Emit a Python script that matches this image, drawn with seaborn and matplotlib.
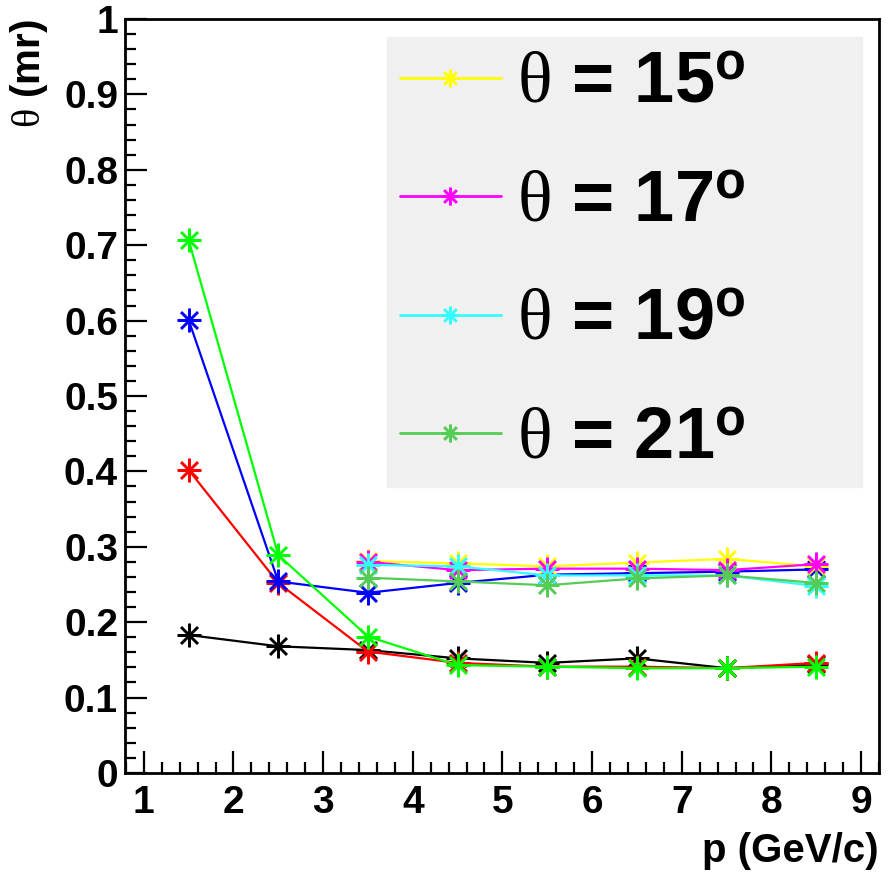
import matplotlib
matplotlib.use("Agg")
import matplotlib.pyplot as plt
import seaborn as sns
import numpy as np
import pandas as pd
from matplotlib.ticker import MultipleLocator

# ---- data ----
p_full = [1.5, 2.5, 3.5, 4.5, 5.5, 6.5, 7.5, 8.5]
p_part = [3.5, 4.5, 5.5, 6.5, 7.5, 8.5]

black = [0.183, 0.168, 0.163, 0.152, 0.146, 0.152, 0.139, 0.144]
red = [0.402, 0.252, 0.161, 0.146, 0.141, 0.141, 0.139, 0.146]
blue = [0.601, 0.254, 0.239, 0.252, 0.263, 0.265, 0.267, 0.270]
lime = [0.707, 0.289, 0.181, 0.143, 0.141, 0.139, 0.139, 0.141]

theta15 = [0.281, 0.278, 0.274, 0.279, 0.284, 0.274]
theta17 = [0.280, 0.269, 0.271, 0.271, 0.269, 0.277]
theta19 = [0.276, 0.274, 0.262, 0.262, 0.262, 0.248]
theta21 = [0.259, 0.254, 0.249, 0.258, 0.262, 0.252]

legend_labels = [r"$\mathrm{\theta}$ = 15$^{\mathbf{o}}$",
                 r"$\mathrm{\theta}$ = 17$^{\mathbf{o}}$",
                 r"$\mathrm{\theta}$ = 19$^{\mathbf{o}}$",
                 r"$\mathrm{\theta}$ = 21$^{\mathbf{o}}$"]

sns.set_theme(style="ticks")
plt.rcParams["font.family"] = ["Liberation Sans", "DejaVu Sans"]
plt.rcParams["mathtext.fontset"] = "custom"
plt.rcParams["mathtext.rm"] = "Liberation Serif"
plt.rcParams["mathtext.it"] = "Liberation Serif:italic"
plt.rcParams["mathtext.bf"] = "Liberation Sans:bold"
plt.rcParams["text.color"] = "black"
plt.rcParams["axes.labelcolor"] = "black"
plt.rcParams["xtick.color"] = "black"
plt.rcParams["ytick.color"] = "black"

fig = plt.figure(figsize=(8.9, 8.75), dpi=100)
ax = fig.add_axes([0.1404, 0.1166, 0.8472, 0.8617])

star = (8, 2, 0)
common = dict(marker=star, markersize=17, markeredgewidth=1.8, linewidth=1.6, ax=ax, legend=False)

series_lo = [(black, "black"), (red, "#ff0000"), (blue, "#0000ff"), (lime, "#00ff00")]
for vals, col in series_lo:
    sns.lineplot(x=p_full, y=vals, color=col, markeredgecolor=col, **common)

series_hi = [(theta15, "#ffff00"), (theta17, "#ff00ff"), (theta19, "#33ffff"), (theta21, "#55cc55")]
handles = []
for (vals, col), lab in zip(series_hi, legend_labels):
    sns.lineplot(x=p_part, y=vals, color=col, markeredgecolor=col, **common)
    handles.append(ax.lines[-1])

ax.set_xlim(0.79, 9.2)
ax.set_ylim(0, 1)
ax.xaxis.set_major_locator(MultipleLocator(1))
ax.xaxis.set_minor_locator(MultipleLocator(0.2))
ax.yaxis.set_major_locator(MultipleLocator(0.1))
ax.yaxis.set_minor_locator(MultipleLocator(0.02))
ax.set_yticks(np.arange(0, 1.01, 0.1))
ax.set_yticklabels(["0", "0.1", "0.2", "0.3", "0.4", "0.5", "0.6", "0.7", "0.8", "0.9", "1"])
ax.tick_params(which="both", direction="in", top=False, right=False, width=1.6, color="black")
ax.tick_params(which="major", length=16)
ax.tick_params(which="minor", length=8)
ax.tick_params(axis="x", which="major", pad=9)
ax.tick_params(axis="y", which="major", pad=5)
for lab in ax.get_xticklabels() + ax.get_yticklabels():
    lab.set_fontweight("bold")
    lab.set_fontsize(28)
    lab.set_color("black")
for s in ax.spines.values():
    s.set_linewidth(2)
    s.set_color("black")
ax.set_facecolor("white")
ax.grid(False)

ax.set_xlabel("p (GeV/c)", fontsize=29, fontweight="bold", loc="right", color="black")
ax.xaxis.set_label_coords(1.0, -0.078)
ax.set_ylabel(r"$\mathrm{\theta}$ (mr)", fontsize=29, fontweight="bold", loc="top", color="black")
ax.yaxis.set_label_coords(-0.1, 1.0)

leg = ax.legend(handles, legend_labels, loc="upper left", bbox_to_anchor=(0.347, 0.976, 0.63, 0.0),
                mode="expand", borderaxespad=0, frameon=True, fancybox=False,
                facecolor="#f0f0f0", edgecolor="#f0f0f0", framealpha=1,
                prop={"family": "Liberation Sans", "weight": "bold", "size": 52},
                handlelength=1.4, handletextpad=0.22, labelspacing=0.70, borderpad=0.18,
                markerscale=0.75, labelcolor="black")
for h in leg.legend_handles:
    h.set_linewidth(2)

fig.savefig("out.png", dpi=100, facecolor="white")
